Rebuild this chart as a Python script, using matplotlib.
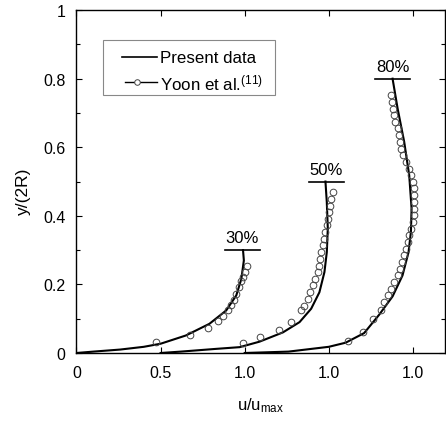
import numpy as np
import matplotlib
matplotlib.use('Agg')
import matplotlib.pyplot as plt
from matplotlib.patches import Rectangle

plt.rcParams['font.family'] = ['Liberation Sans', 'DejaVu Sans']
plt.rcParams['mathtext.fontset'] = 'custom'
plt.rcParams['mathtext.rm'] = 'Liberation Sans'
plt.rcParams['mathtext.it'] = 'Liberation Sans:italic'
plt.rcParams['mathtext.default'] = 'rm'

# Data (u/umax, y/(2R)), one profile per filling level
offsets = [0.0, 0.5, 1.0]
fill_levels = [0.3, 0.5, 0.8]
fill_labels = ['30%', '50%', '80%']
surface_u = [0.985, 0.984, 0.88]

# Present data (lines)
line1_u = [0, 0.10, 0.26, 0.40, 0.50, 0.65, 0.79, 0.89, 0.95, 0.98, 0.995, 0.99]
line1_y = [0, 0.004, 0.010, 0.018, 0.027, 0.051, 0.085, 0.124, 0.168, 0.216, 0.27, 0.30]

line2_u = [0, 0.12, 0.33, 0.47, 0.588, 0.727, 0.826, 0.895, 0.944, 0.974, 0.988, 0.994, 0.988, 0.98]
line2_y = [0, 0.004, 0.012, 0.017, 0.033, 0.060, 0.090, 0.129, 0.177, 0.236, 0.294, 0.363, 0.44, 0.50]

line3_u = [0, 0.26, 0.50, 0.60, 0.71, 0.80, 0.879, 0.938, 0.974, 0.988, 0.992, 0.978, 0.948, 0.909, 0.879]
line3_y = [0, 0.004, 0.018, 0.030, 0.058, 0.112, 0.165, 0.226, 0.294, 0.353, 0.421, 0.518, 0.616, 0.713, 0.80]

# Yoon et al. (circles)
yoon1_u = [0.47, 0.673, 0.78, 0.84, 0.87, 0.90, 0.92, 0.935, 0.95, 0.965, 0.98, 0.99, 1.0, 1.015]
yoon1_y = [0.032, 0.053, 0.072, 0.092, 0.108, 0.124, 0.14, 0.155, 0.172, 0.192, 0.21, 0.222, 0.236, 0.255]

yoon2_u = [0.49, 0.588, 0.705, 0.776, 0.836, 0.855, 0.875, 0.89, 0.905, 0.92, 0.934, 0.944,
           0.948, 0.954, 0.964, 0.974, 0.98, 0.988, 0.994, 1.004, 1.008, 1.014, 1.023]
yoon2_y = [0.028, 0.046, 0.068, 0.09, 0.124, 0.138, 0.158, 0.177, 0.197, 0.216, 0.236, 0.255,
           0.275, 0.294, 0.314, 0.333, 0.353, 0.372, 0.39, 0.41, 0.43, 0.45, 0.47]

yoon3_u = [0.615, 0.705, 0.76, 0.81, 0.83, 0.849, 0.87, 0.889, 0.909, 0.923, 0.935, 0.948,
           0.958, 0.968, 0.978, 0.988, 0.998, 1.004, 1.008, 1.008, 1.008, 1.004, 0.998, 0.988,
           0.974, 0.958, 0.942, 0.929, 0.923, 0.919, 0.909, 0.895, 0.889, 0.879, 0.875, 0.87]
yoon3_y = [0.036, 0.062, 0.099, 0.124, 0.148, 0.168, 0.187, 0.207, 0.226, 0.246, 0.265, 0.285,
           0.304, 0.324, 0.343, 0.363, 0.382, 0.401, 0.421, 0.44, 0.46, 0.48, 0.499, 0.518,
           0.538, 0.558, 0.577, 0.596, 0.616, 0.635, 0.655, 0.675, 0.694, 0.713, 0.733, 0.752]

lines = [(line1_u, line1_y), (line2_u, line2_y), (line3_u, line3_y)]
yoon = [(yoon1_u, yoon1_y), (yoon2_u, yoon2_y), (yoon3_u, yoon3_y)]

xtick_labels = ['0', '0.5', '1.0', '1.0', '1.0']
ytick_labels = ['0', '0.2', '0.4', '0.6', '0.8', '1']
legend_labels = ['Present data', 'Yoon et al.$^{(11)}$']

fig = plt.figure(figsize=(4.46, 4.27), dpi=100)
ax = fig.add_axes([0.1715, 0.171, 0.826, 0.803])

for i in range(3):
    off = offsets[i]
    lu, ly = lines[i]
    ax.plot(np.array(lu) + off, ly, color='black', lw=1.5, zorder=3)
    cu, cy = yoon[i]
    ax.plot(np.array(cu) + off, cy, ls='none', marker='o', ms=4.8,
            mfc='none', mec='#444444', mew=0.7, zorder=4)
    # free surface mark
    xc = surface_u[i] + off
    ax.plot([xc - 0.104, xc + 0.104], [fill_levels[i], fill_levels[i]],
            color='black', lw=1.2, zorder=3)
    ax.annotate(fill_labels[i], (xc, fill_levels[i]), xytext=(0, 3.5),
                textcoords='offset points', ha='center', va='bottom', fontsize=12)

ax.set_xlim(0, 2.19)
ax.set_ylim(0, 1)
ax.set_xticks([0, 0.5] + [o + 1.0 for o in offsets])
ax.set_xticklabels(xtick_labels)
ax.set_yticks(np.linspace(0, 1, 6))
ax.set_yticklabels(ytick_labels)
ax.set_yticks(np.arange(0.1, 1.0, 0.2), minor=True)
ax.tick_params(which='both', direction='in', top=True, right=True, labelsize=11.5,
               width=0.8)
ax.tick_params(axis='x', pad=9)
ax.tick_params(axis='y', pad=8)
ax.tick_params(which='major', length=4)
ax.tick_params(which='minor', length=3)
for s in ax.spines.values():
    s.set_linewidth(1.0)

ax.set_xlabel('u/u$_{\\rm max}$', fontsize=12, labelpad=11)
ax.set_ylabel('y/(2R)', fontsize=12.5)
ax.yaxis.set_label_coords(-0.123, 0.475)

# legend box drawn by hand (axes fraction)
tr = ax.transAxes
ax.add_patch(Rectangle((0.072, 0.752), 0.467, 0.1605, transform=tr, fill=False,
                       edgecolor='#888888', lw=0.8, zorder=5))
ax.plot([0.1235, 0.2185], [0.863, 0.863], transform=tr, color='black', lw=1.2, zorder=6)
ax.plot([0.132, 0.2185], [0.790, 0.790], transform=tr, color='black', lw=1.0, zorder=6)
ax.plot([0.164], [0.790], transform=tr, ls='none', marker='o', ms=4, mfc='white',
        mec='#444444', mew=0.7, zorder=7)
ax.text(0.2266, 0.863, legend_labels[0], transform=tr, fontsize=12.2, va='center', ha='left')
ax.text(0.2266, 0.790, legend_labels[1], transform=tr, fontsize=12.2, va='center', ha='left')

fig.savefig('out.png', dpi=100)
